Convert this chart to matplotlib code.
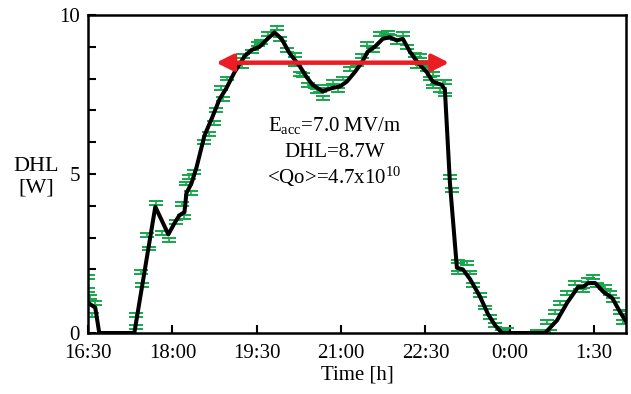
import matplotlib.pyplot as plt
from matplotlib.ticker import MultipleLocator

plt.rcParams['font.family'] = ['Liberation Serif', 'DejaVu Serif']
plt.rcParams['mathtext.fontset'] = 'custom'
plt.rcParams['mathtext.rm'] = 'Liberation Serif'
plt.rcParams['mathtext.it'] = 'Liberation Serif:italic'

# minutes after 16:30
line_t = [0, 7.7, 12, 49.4, 71.8, 85.7, 92.2, 97.5, 102.9, 105, 110.3, 115.7, 124.2, 132.8,
          140.3, 147.7, 156.3, 167, 174.5, 183, 191.6, 199, 206.5, 215, 225.7, 233.2, 239.7,
          250.4, 260, 268.6, 276, 284.6, 292, 298.5, 306, 314.5, 322, 329.4, 335.9, 343.4,
          351.9, 361.5, 368, 377.6, 380.8, 386.2, 393.6, 400, 407.5, 418.2, 426.7, 434.2,
          441.7, 487.7, 500.5, 511.2, 523, 528.3, 533.7, 541.2, 549.7, 559.4, 567.9, 575.4]
line_v = [0.95, 0.8, 0, 0, 3.97, 3.1, 3.45, 3.7, 3.8, 4.4, 4.7, 5.2, 6.2, 6.8,
          7.35, 7.7, 8.2, 8.7, 8.9, 9.0, 9.25, 9.45, 9.25, 8.8, 8.4, 8.05, 7.8,
          7.6, 7.7, 7.75, 7.9, 8.2, 8.5, 8.85, 9.0, 9.25, 9.3, 9.2, 9.25, 8.85,
          8.5, 8.2, 7.9, 7.8, 7.65, 4.7, 2.05, 2.0, 1.7, 1.15, 0.6, 0.25,
          0, 0, 0.4, 0.95, 1.45, 1.45, 1.57, 1.57, 1.3, 1.1, 0.65, 0.3]

meas_t = [0, 0.5, 2.4, 4.5, 7.7, 50.8, 50.8, 56.1, 57.9, 65.1, 63.3, 72.2, 79.3, 86.5,
          93.5, 100.7, 102.5, 109.6, 105, 108.2, 113.5, 124.2, 129.6, 134.9, 137, 143.5,
          142.4, 148.8, 159.5, 164.9, 163.8, 174.5, 180.9, 185.1, 191.6, 201.2, 204.4,
          211.9, 220.4, 225.7, 220.4, 229, 234.4, 241.9, 247.2, 250.4, 244, 255.7, 261,
          266.4, 271.7, 279.2, 286.7, 292, 297.4, 303.8, 311.3, 319.8, 322, 329.4, 335.9,
          340.1, 348.7, 354, 356.2, 350.8, 361.5, 364.7, 372.2, 378.6, 368, 375.4, 368,
          380.8, 380.8, 386.2, 388.3, 394.7, 404.4, 394.7, 407.5, 410.7, 418.2, 423.5,
          428.9, 434.2, 441.7, 447, 479.1, 485.5, 493, 489.8, 498.3, 503.7, 511.2, 519.7,
          525, 528.3, 533.7, 539, 543.3, 551.9, 557.3, 560.5, 568, 571.2, 575.4]
meas_v = [1.75, 1.35, 1.13, 0.57, 0.95, 0.57, 0.2, 1.93, 1.5, 2.66, 3.08, 4.1, 3.14, 2.92,
          3.5, 4.06, 3.66, 4.41, 4.7, 4.9, 5.05, 6.0, 6.25, 6.6, 7.0, 7.35,
          7.7, 8.0, 8.4, 8.7, 8.4, 8.85, 9.1, 9.15, 9.4, 9.6, 9.25,
          8.9, 8.75, 8.15, 8.45, 8.1, 7.8, 7.75, 7.65, 7.4, 7.6, 7.75, 7.9,
          7.65, 8.0, 8.3, 8.45, 8.7, 9.1, 8.9, 9.4, 9.45, 9.3, 9.15, 9.4,
          9.0, 8.75, 8.7, 8.5, 8.4, 8.3, 8.0, 7.9, 7.9, 7.75, 7.65, 8.15,
          7.9, 7.5, 4.9, 4.5, 2.25, 2.2, 1.9, 1.9, 1.5, 1.2, 0.8,
          0.5, 0.25, 0.03, 0.1, 0.03, 0.03, 0.03, 0.35, 0.66, 0.95, 1.25, 1.57,
          1.45, 1.35, 1.67, 1.77, 1.5, 1.45, 1.25, 1.05, 0.66, 0.35, 0.63]
meas_err = 0.06

tick_t = [0, 90, 180, 270, 360, 450, 540]
tick_labels = ['16:30', '18:00', '19:30', '21:00', '22:30', '0:00', '1:30']

arrow_from, arrow_to, arrow_level = 136.7, 385.4, 8.5
info_lines = [r'E$_{\rm acc}$=7.0 MV/m', 'DHL=8.7W', r'<Qo>=4.7x10$^{10}$']
info_t = 263
info_v = [6.54, 5.66, 4.9]

fig = plt.figure(figsize=(6.31, 3.94), dpi=100)
ax = fig.add_axes([0.1395, 0.1548, 0.8525, 0.8072])

ax.errorbar(meas_t, meas_v, yerr=meas_err, fmt='none', ecolor='#13a84a',
            elinewidth=1.2, capsize=4.8, capthick=1.4, zorder=2)
ax.plot(line_t, line_v, color='black', lw=2.9, zorder=3, solid_joinstyle='round')

ax.annotate('', xy=(arrow_to, arrow_level), xytext=(arrow_from, arrow_level),
            arrowprops=dict(arrowstyle='<|-|>,head_length=1.0,head_width=0.5',
                            color='#ec1c24', lw=3.2, shrinkA=0, shrinkB=0), zorder=4)

for txt, v in zip(info_lines, info_v):
    ax.text(info_t, v, txt, ha='center', va='center', fontsize=15)

ax.set_xlim(0, 574)
ax.set_ylim(0, 10)
ax.set_xticks(tick_t)
ax.set_xticklabels(tick_labels)
ax.set_yticks([0, 5, 10])
ax.yaxis.set_minor_locator(MultipleLocator(1))
ax.tick_params(direction='in', length=6, width=1.5, labelsize=15)
ax.tick_params(axis='x', pad=8)
ax.tick_params(axis='y', pad=6)
ax.tick_params(which='minor', direction='in', length=6, width=1.5)
for s in ax.spines.values():
    s.set_linewidth(1.8)

ax.set_xlabel('Time [h]', fontsize=15, labelpad=2)
ax.set_ylabel('DHL\n[W]', fontsize=16, rotation=0, ha='center', va='center')
ax.yaxis.set_label_coords(-0.096, 0.49)

fig.savefig('out.png', dpi=100)
